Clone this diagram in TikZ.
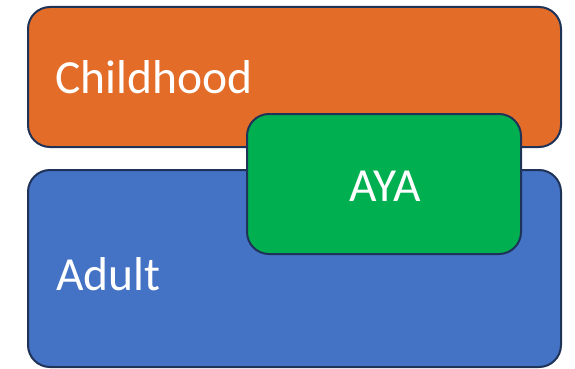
\documentclass[tikz,border=0pt]{standalone}
\usepackage{fontspec}
\setmainfont{Carlito}
\definecolor{childorange}{HTML}{E36C28}
\definecolor{adultblue}{HTML}{4472C4}
\definecolor{ayagreen}{HTML}{00B050}
\definecolor{edgenavy}{HTML}{1F3257}
\tikzset{
    age block/.style = {
        draw = edgenavy,
        line width = 2pt,
        rounded corners = 22pt,
        inner sep = 0pt,
        },
    age label/.style = {
        text = white,
        font = \fontsize{47.5}{52}\selectfont,
        inner sep = 0pt,
        },
}
\begin{document}
\begin{tikzpicture}[x=1pt, y=-1pt]
    \useasboundingbox (0,0) rectangle (575,369);
    % the three age groups
    \node [age block, fill=childorange, minimum width=533pt, minimum height=140pt] (child) at (294.5,77) {};
    \node [age block, fill=adultblue, minimum width=533pt, minimum height=197pt] (adult) at (294.5,268.5) {};
    \node [age block, fill=ayagreen, minimum width=274pt, minimum height=140pt] (aya) at (384,184) {};
    % labels
    \node [age label, anchor=base west] (childtext) at (55,93) {Childhood};
    \node [age label, anchor=base west] (adulttext) at (56,290) {Adult};
    \node [age label, anchor=base] (ayatext) at (385,201) {AYA};
\end{tikzpicture}
\end{document}
